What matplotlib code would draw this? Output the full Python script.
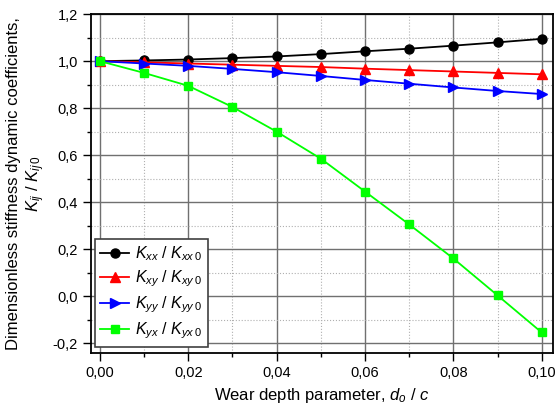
import matplotlib
matplotlib.use('Agg')
import matplotlib.pyplot as plt
from matplotlib.ticker import MultipleLocator, FuncFormatter

plt.rcParams['font.family'] = ['Liberation Sans', 'DejaVu Sans']
plt.rcParams['mathtext.fontset'] = 'custom'
plt.rcParams['mathtext.rm'] = 'Liberation Sans'
plt.rcParams['mathtext.it'] = 'Liberation Sans:italic'

# wear depth parameter d0/c
wear = [0.00, 0.01, 0.02, 0.03, 0.04, 0.05, 0.06, 0.07, 0.08, 0.09, 0.10]
kxx = [1.000, 1.003, 1.007, 1.013, 1.020, 1.030, 1.042, 1.053, 1.066, 1.080, 1.095]
kxy = [1.000, 0.995, 0.990, 0.985, 0.980, 0.975, 0.968, 0.962, 0.956, 0.950, 0.944]
kyy = [1.000, 0.990, 0.980, 0.967, 0.953, 0.937, 0.920, 0.904, 0.888, 0.873, 0.860]
kyx = [1.000, 0.950, 0.895, 0.805, 0.700, 0.585, 0.445, 0.305, 0.160, 0.003, -0.155]

fig = plt.figure(figsize=(5.55, 4.05), dpi=100)
ax = fig.add_axes([0.164, 0.128, 0.832, 0.837])

ax.plot(wear, kxx, color='black', marker='o', ms=6.5, lw=1.3, label=r'$K_{xx}$ / $K_{xx\,0}$')
ax.plot(wear, kxy, color='red', marker='^', ms=7, lw=1.3, label=r'$K_{xy}$ / $K_{xy\,0}$')
ax.plot(wear, kyy, color='blue', marker='>', ms=7, lw=1.3, label=r'$K_{yy}$ / $K_{yy\,0}$')
ax.plot(wear, kyx, color='#00ff00', marker='s', ms=6, lw=1.3, label=r'$K_{yx}$ / $K_{yx\,0}$')

ax.set_xlim(-0.002, 0.1025)
ax.set_ylim(-0.243, 1.2)
ax.xaxis.set_major_locator(MultipleLocator(0.02))
ax.xaxis.set_minor_locator(MultipleLocator(0.01))
ax.yaxis.set_major_locator(MultipleLocator(0.2))
ax.yaxis.set_minor_locator(MultipleLocator(0.1))
ax.xaxis.set_major_formatter(FuncFormatter(lambda v, p: ('%.2f' % v).replace('.', ',')))
ax.yaxis.set_major_formatter(FuncFormatter(lambda v, p: ('%.1f' % v).replace('.', ',')))

ax.grid(which='major', color='#707070', lw=1.0, ls='-')
ax.grid(which='minor', color='#b0b0b0', lw=0.8, ls=':')
ax.set_axisbelow(True)

ax.tick_params(which='major', direction='out', length=6, width=1, labelsize=10.5)
ax.tick_params(which='minor', direction='out', length=3, width=1)
for s in ax.spines.values():
    s.set_linewidth(1.3)

ax.set_xlabel(r'Wear depth parameter, $d_o$ / $c$', fontsize=12, labelpad=4)
ax.set_ylabel('Dimensionless stiffness dynamic coefficients,\n' + r'$K_{ij}$ / $K_{ij\,0}$',
              fontsize=12, labelpad=4)

leg = ax.legend(loc='lower left', bbox_to_anchor=(0.008, 0.018), fontsize=11.5,
                fancybox=False, framealpha=1, edgecolor='#404040', handlelength=1.8,
                borderpad=0.35, labelspacing=0.35, handletextpad=0.4, borderaxespad=0)
leg.get_frame().set_linewidth(1.2)

fig.savefig('out.png', dpi=100)
